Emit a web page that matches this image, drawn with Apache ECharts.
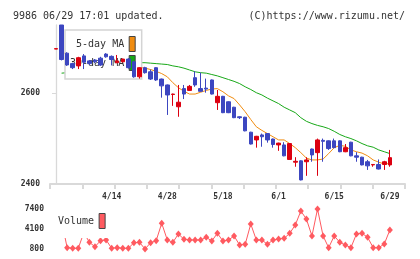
<!DOCTYPE html>
<html>
<head>
<meta charset="utf-8">
<script src="https://cdn.jsdelivr.net/npm/echarts@6/dist/echarts.min.js"></script>
<style>
  html, body { margin: 0; padding: 0; background: #fff; }
  #chart { width: 420px; height: 259px; }
</style>
</head>
<body>
<div id="chart"></div>
<script>
const dates = [
  "3/31", "4/1", "4/4", "4/5", "4/6", "4/7", "4/8", "4/11", "4/12", "4/13",
  "4/14", "4/15", "4/18", "4/19", "4/20", "4/21", "4/22", "4/25", "4/26", "4/27",
  "4/28", "5/2", "5/6", "5/9", "5/10", "5/11", "5/12", "5/13", "5/16", "5/17",
  "5/18", "5/19", "5/20", "5/23", "5/24", "5/25", "5/26", "5/27", "5/30", "5/31",
  "6/1", "6/2", "6/3", "6/6", "6/7", "6/8", "6/9", "6/10", "6/13", "6/14",
  "6/15", "6/16", "6/17", "6/20", "6/21", "6/22", "6/23", "6/24", "6/27", "6/28",
  "6/29"
];
const openPrices = [
  2697, 2750, 2688, 2665, 2660, 2682, 2671, 2673, 2677, 2686,
  2681, 2667, 2669, 2675, 2669, 2636, 2656, 2647, 2656, 2631,
  2618, 2597, 2570, 2610, 2606, 2634, 2610, 2611, 2629, 2579,
  2593, 2581, 2569, 2548, 2547, 2514, 2497, 2508, 2511, 2499,
  2486, 2486, 2454, 2448, 2451, 2449, 2477, 2469, 2496, 2495,
  2495, 2495, 2471, 2492, 2462, 2459, 2449, 2442, 2443, 2443,
  2442
];
const closePrices = [
  2698, 2674, 2662, 2656, 2678, 2668, 2665, 2669, 2662, 2680,
  2674, 2671, 2675, 2656, 2636, 2656, 2645, 2631, 2629, 2616,
  2596, 2598, 2580, 2598, 2615, 2618, 2604, 2609, 2598, 2593,
  2557, 2557, 2546, 2546, 2517, 2488, 2505, 2504, 2497, 2487,
  2490, 2462, 2489, 2450, 2409, 2453, 2464, 2497, 2494, 2478,
  2480, 2471, 2480, 2462, 2459, 2442, 2440, 2443, 2433, 2449,
  2458
];
const lowPrices = [
  2697, 2672, 2660, 2653, 2653, 2653, 2662, 2666, 2660, 2678,
  2661, 2666, 2668, 2654, 2634, 2632, 2643, 2629, 2627, 2590,
  2552, 2572, 2548, 2587, 2605, 2614, 2603, 2601, 2597, 2563,
  2556, 2556, 2545, 2543, 2516, 2487, 2480, 2482, 2491, 2480,
  2473, 2461, 2453, 2438, 2408, 2418, 2449, 2418, 2449, 2475,
  2479, 2470, 2470, 2461, 2449, 2441, 2431, 2438, 2432, 2431,
  2438
];
const highPrices = [
  2698, 2750, 2690, 2667, 2680, 2686, 2673, 2675, 2680, 2688,
  2683, 2684, 2676, 2677, 2670, 2657, 2658, 2652, 2657, 2632,
  2619, 2599, 2618, 2618, 2618, 2648, 2645, 2632, 2630, 2607,
  2594, 2582, 2570, 2549, 2548, 2515, 2506, 2511, 2512, 2500,
  2491, 2492, 2490, 2459, 2452, 2459, 2478, 2500, 2500, 2496,
  2500, 2496, 2488, 2493, 2470, 2460, 2453, 2444, 2454, 2451,
  2475
];
const ma5 = [
  null, 2688, 2688, 2680, 2672, 2668, 2668, 2668, 2670, 2672,
  2675, 2676, 2674, 2670, 2665, 2657, 2655, 2652, 2648, 2643,
  2636, 2623, 2612, 2604, 2598, 2598, 2602, 2606, 2609, 2610,
  2603, 2594, 2588, 2574, 2559, 2542, 2526, 2518, 2511, 2504,
  2497, 2497, 2489, 2480, 2469, 2457, 2453, 2453, 2455, 2467,
  2480, 2485, 2483, 2475, 2471, 2468, 2462, 2453, 2448, 2444,
  2445
];
const ma30 = [
  null, 2644, 2645, 2647, 2649, 2651, 2653, 2655, 2657, 2659,
  2661, 2663, 2664, 2665, 2666, 2667, 2667, 2666, 2665, 2664,
  2663, 2660, 2658, 2655, 2651, 2647, 2645, 2644, 2641, 2638,
  2634, 2630, 2626, 2621, 2614, 2608, 2601, 2596, 2589, 2583,
  2577, 2569, 2563, 2557, 2546, 2538, 2533, 2529, 2526, 2522,
  2516, 2509, 2504, 2500, 2495, 2489, 2484, 2481, 2475, 2471,
  2467
];
const volumes = [
  null, 5500, 1020, 920, 920, 3500, 1900, 1180, 2170, 2290,
  920, 1020, 920, 920, 1840, 1900, 800, 1840, 2170, 5040,
  2290, 1900, 3280, 2400, 2290, 2290, 2290, 2730, 2120, 3390,
  2120, 2290, 2950, 1460, 1570, 4930, 2290, 2290, 1570, 2290,
  2450, 2560, 3390, 4760, 7070, 5750, 2950, 7400, 2950, 1020,
  2950, 1900, 1460, 1020, 3280, 3390, 2730, 1020, 1020, 1630,
  3940
];
const priceTicks = [2400, 2600];
const volumeTicks = [800, 4100, 7400];
const dateLabelIdx = [10, 20, 30, 40, 50, 60];

const mono = "DejaVu Sans Mono";
const axisGrey = "#d9d9d9";
const upColor = "#dc0010";
const downColor = "#3c46c0";

const xMin = -1.08;
const xMax = 62.72;

const candles = dates.map((d, i) => [i, openPrices[i], closePrices[i], lowPrices[i], highPrices[i]]);
const ma5Data = ma5.map((v, i) => [i, v]);
const ma30Data = ma30.map((v, i) => [i, v]);
const volumeData = volumes.map((v, i) => [i, v]);

const chart = echarts.init(document.getElementById("chart"));

chart.setOption({
  animation: false,
  title: [
    {
      text: "9986 06/29 17:01 updated.",
      left: 8, top: 6,
      textStyle: { fontFamily: mono, fontSize: 10, fontWeight: "normal", color: "#333" }
    },
    {
      text: "(C)https://www.rizumu.net/",
      right: 10, top: 6,
      textStyle: { fontFamily: mono, fontSize: 10, fontWeight: "normal", color: "#333" }
    }
  ],
  legend: [
    {
      data: ["5-day MA", "30-day MA"],
      orient: "vertical",
      align: "right",
      left: 65, top: 30,
      padding: [6, 6, 8, 5],
      itemWidth: 6, itemHeight: 15, itemGap: 3,
      icon: "rect",
      itemStyle: { borderColor: "#444", borderWidth: 1 },
      backgroundColor: "#fff",
      borderColor: "#d4d4d4",
      borderWidth: 1.5,
      selectedMode: false,
      z: 3,
      textStyle: { fontFamily: mono, fontSize: 10, color: "#333" }
    },
    {
      data: ["Volume"],
      align: "right",
      left: 55, top: 208,
      padding: [5, 3, 9, 3],
      itemWidth: 6, itemHeight: 15,
      icon: "rect",
      itemStyle: { borderColor: "#444", borderWidth: 1 },
      backgroundColor: "#fff",
      selectedMode: false,
      z: 3,
      textStyle: { fontFamily: mono, fontSize: 10, color: "#333" }
    }
  ],
  grid: [
    { left: 50, right: 15, top: 25, bottom: 75 },
    { left: 50, right: 15, top: 209, bottom: 10 }
  ],
  xAxis: [
    {
      type: "value", gridIndex: 0, position: "bottom",
      min: xMin, max: xMax,
      axisLine: { show: false },
      axisTick: { show: false },
      splitLine: { show: false },
      axisLabel: {
        customValues: dateLabelIdx,
        formatter: v => dates[v],
        margin: 9,
        fontFamily: mono, fontSize: 8, fontWeight: "bold", color: "#333"
      }
    },
    {
      type: "value", gridIndex: 0, position: "bottom",
      min: 0, max: 11, interval: 1,
      axisLine: { show: true, lineStyle: { color: axisGrey, width: 2 } },
      axisTick: { show: true, length: 5, lineStyle: { color: axisGrey, width: 2 } },
      axisLabel: { show: false },
      splitLine: { show: false }
    },
    {
      type: "value", gridIndex: 1,
      min: xMin, max: xMax,
      show: false
    }
  ],
  yAxis: [
    {
      type: "value", gridIndex: 0,
      min: 2400, max: 2750,
      axisLine: { show: true, lineStyle: { color: axisGrey, width: 1.3 } },
      axisTick: { show: true, length: 4, customValues: priceTicks, lineStyle: { color: axisGrey } },
      splitLine: { show: false },
      axisLabel: {
        customValues: priceTicks,
        formatter: v => String(v),
        margin: 10,
        fontFamily: mono, fontSize: 8, fontWeight: "bold", color: "#333"
      }
    },
    {
      type: "value", gridIndex: 1,
      min: 800, max: 7400,
      axisLine: { show: false },
      axisTick: { show: false },
      splitLine: { show: false },
      axisLabel: {
        customValues: volumeTicks,
        formatter: v => String(v),
        margin: 6,
        fontFamily: mono, fontSize: 8, fontWeight: "bold", color: "#333"
      }
    }
  ],
  series: [
    {
      name: "5-day MA",
      type: "line",
      xAxisIndex: 0, yAxisIndex: 0,
      data: ma5Data,
      showSymbol: false,
      color: "#f08c10",
      lineStyle: { width: 1 },
      z: 1
    },
    {
      name: "30-day MA",
      type: "line",
      xAxisIndex: 0, yAxisIndex: 0,
      data: ma30Data,
      showSymbol: false,
      color: "#18a818",
      lineStyle: { width: 1 },
      z: 1
    },
    {
      name: "price",
      type: "candlestick",
      xAxisIndex: 0, yAxisIndex: 0,
      data: candles,
      barWidth: 4,
      itemStyle: {
        color: upColor, color0: downColor,
        borderColor: upColor, borderColor0: downColor,
        borderWidth: 1
      },
      z: 5
    },
    {
      name: "Volume",
      type: "line",
      xAxisIndex: 2, yAxisIndex: 1,
      data: volumeData,
      symbol: "diamond",
      symbolSize: [6, 7],
      color: "#ff5a60",
      lineStyle: { width: 1 },
      z: 2
    }
  ]
});
</script>
</body>
</html>
